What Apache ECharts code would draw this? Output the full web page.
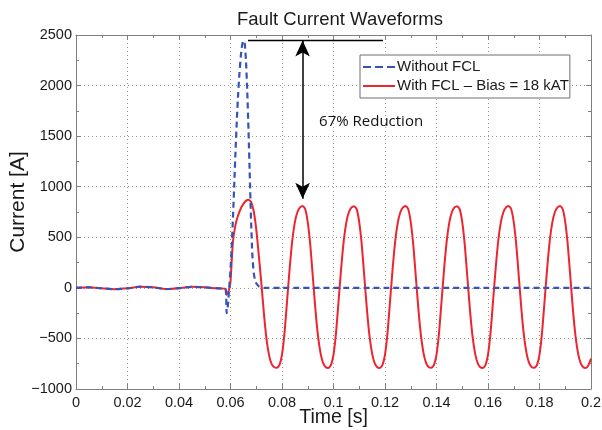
<!DOCTYPE html>
<html><head><meta charset="utf-8">
<script src="https://cdn.jsdelivr.net/npm/echarts@6/dist/echarts.min.js"></script>
<style>html,body{margin:0;padding:0;background:#fff}#c{width:602px;height:430px}</style>
</head><body><div id="c"></div>
<script>
// ---- data ----
var xTicks = [0, 0.02, 0.04, 0.06, 0.08, 0.1, 0.12, 0.14, 0.16, 0.18, 0.2];
var yTicks = [-1000, -500, 0, 500, 1000, 1500, 2000, 2500];

var redTime = [0,0.005,0.01,0.015,0.02,0.025,0.03,0.035,0.04,0.045,0.05,0.055,0.058,0.0585,0.059,0.0595,0.06,0.0605,0.061,0.062,0.063,0.064,0.065,0.066,0.067,
0.068,0.069,0.07,0.071,0.072,0.073,0.074,0.075,0.076,0.077,0.078,0.079,0.08,0.081,0.082,0.083,0.084,0.085,0.086,0.087,0.088,
0.089,0.09,0.091,0.092,0.093,0.094,0.095,0.096,0.097,0.098,0.099,0.1,0.101,0.102,0.103,0.104,0.105,0.106,0.107,0.108,
0.109,0.11,0.111,0.112,0.113,0.114,0.115,0.116,0.117,0.118,0.119,0.12,0.121,0.122,0.123,0.124,0.125,0.126,0.127,0.128,
0.129,0.13,0.131,0.132,0.133,0.134,0.135,0.136,0.137,0.138,0.139,0.14,0.141,0.142,0.143,0.144,0.145,0.146,0.147,0.148,
0.149,0.15,0.151,0.152,0.153,0.154,0.155,0.156,0.157,0.158,0.159,0.16,0.161,0.162,0.163,0.164,0.165,0.166,0.167,0.168,
0.169,0.17,0.171,0.172,0.173,0.174,0.175,0.176,0.177,0.178,0.179,0.18,0.181,0.182,0.183,0.184,0.185,0.186,0.187,0.188,
0.189,0.19,0.191,0.192,0.193,0.194,0.195,0.196,0.197,0.198,0.199,0.2];
var redCurrent = [0,5,-5,-13,-5,12,5,-12,-3,10,5,-5,-8,-70,-45,-15,60,280,470,630,720,785,830,860,870,
850,760,580,320,40,-260,-510,-670,-755,-785,-790,-765,-660,-440,-120,200,470,650,750,795,810,
780,650,420,100,-220,-480,-650,-745,-785,-792,-765,-660,-440,-120,200,470,650,750,795,808,
778,648,420,100,-220,-480,-650,-745,-785,-792,-765,-660,-440,-120,200,470,650,750,795,810,
780,650,420,100,-220,-480,-650,-745,-785,-790,-765,-660,-440,-120,200,470,650,750,795,808,
778,650,420,100,-220,-480,-650,-745,-785,-792,-765,-660,-440,-120,200,470,650,750,795,810,
780,650,420,100,-220,-480,-650,-745,-785,-790,-765,-660,-440,-120,200,470,650,750,795,810,
780,650,420,100,-220,-480,-650,-745,-785,-792,-765,-700];

var blueTime = [0,0.005,0.01,0.015,0.02,0.025,0.03,0.035,0.04,0.045,0.05,0.055,0.058,0.0585,0.059,0.0595,0.06,0.0605,0.061,0.0615,0.062,0.0625,0.063,0.0635,0.064,0.0645,0.065,0.0655,0.066,0.0665,0.067,0.0675,0.068,0.0685,0.069,0.0695,0.07,0.071,0.072,0.073,0.08,0.1,0.12,0.14,0.16,0.18,0.2];
var blueCurrent = [0,5,-5,-13,-5,12,5,-12,-3,10,5,-5,-10,-250,-170,0,180,420,720,1050,1380,1680,1930,2130,2290,2400,2445,2420,2250,1950,1550,1100,650,320,150,80,45,15,5,0,0,0,0,0,0,0,0];

var seriesNames = ['Without FCL', 'With FCL \u2013 Bias = 18 kAT'];
var peakLine = {t: [0.0668, 0.1192], v: 2445};
var arrowSpan = {t: 0.088, from: 2445, to: 880};
var noteText = '67% Reduction';
var notePos = [0.1146, 1640];

function pairs(ts, vs) { return ts.map(function (t, i) { return [t, vs[i]]; }); }

var chart = echarts.init(document.getElementById('c'), null, {renderer: 'canvas'});
var FONT = 'Liberation Sans';
var gridStyle = {show: true, lineStyle: {color: '#9a9a9a', type: [1, 3], width: 1}};
var axisLineStyle = {show: true, onZero: false, lineStyle: {color: '#7f7f7f', width: 1}};

function xAx(pos, labels) {
  return {
    type: 'value', position: pos, min: 0, max: 0.2, interval: 0.02,
    axisLine: axisLineStyle,
    axisTick: {show: true, inside: true, length: 5, lineStyle: {color: '#7f7f7f'}},
    minorTick: {show: true, splitNumber: 2, length: 3, lineStyle: {color: '#7f7f7f'}},
    axisLabel: {show: labels, color: '#1a1a1a', fontSize: 14.5, fontFamily: FONT, margin: 6,
      formatter: function (v) { return String(+v.toFixed(2)); }},
    splitLine: labels ? gridStyle : {show: false},
    name: labels ? 'Time [s]' : '', nameLocation: 'middle', nameGap: 19, nameMoveOverlap: false,
    nameTextStyle: {fontSize: 19.5, color: '#1a1a1a', fontFamily: FONT}
  };
}
function yAx(pos, labels) {
  return {
    type: 'value', position: pos, min: -1000, max: 2500, interval: 500,
    axisLine: axisLineStyle,
    axisTick: {show: true, inside: true, length: 5, lineStyle: {color: '#7f7f7f'}},
    minorTick: {show: true, splitNumber: 2, length: 3, lineStyle: {color: '#7f7f7f'}},
    axisLabel: {show: labels, color: '#1a1a1a', fontSize: 14.5, fontFamily: FONT, margin: 4,
      formatter: function (v) { return v < 0 ? '\u2212' + Math.abs(v) : String(v); }},
    splitLine: labels ? gridStyle : {show: false}
  };
}

chart.setOption({
  animation: false,
  backgroundColor: '#fff',
  title: {text: 'Fault Current Waveforms', left: 335, top: 5, textAlign: 'center',
    textStyle: {fontSize: 18.5, fontWeight: 'normal', color: '#1a1a1a', fontFamily: FONT}},
  graphic: [{type: 'text', x: 18, y: 202, rotation: Math.PI / 2, silent: true,
    style: {text: 'Current [A]', fontSize: 21, fontFamily: FONT, fill: '#1a1a1a',
      align: 'center', verticalAlign: 'middle'}}],
  grid: {left: 76, right: 11, top: 35, bottom: 41, containLabel: false, outerBoundsMode: 'none'},
  xAxis: [xAx('bottom', true), xAx('top', false)],
  yAxis: [yAx('left', true), yAx('right', false)],
  legend: {
    data: [
      {name: seriesNames[0], icon: 'path://M0,0H8V2H0Z M12,0H20V2H12Z M24,0H32V2H24Z'},
      {name: seriesNames[1], icon: 'path://M0,0H32V2H0Z'}
    ],
    orient: 'vertical', left: 360, top: 55,
    backgroundColor: '#fff', borderColor: '#6f6f6f', borderWidth: 1,
    padding: [4, 1, 4, 3], itemGap: 3, itemWidth: 32, itemHeight: 2.4,
    textStyle: {fontSize: 15, color: '#1a1a1a', fontFamily: FONT, padding: [0, 0, 0, -3], lineHeight: 16}
  },
  series: [
    {name: seriesNames[0], type: 'line', data: pairs(blueTime, blueCurrent), z: 3,
      showSymbol: false, symbol: 'none', smooth: 0.2,
      lineStyle: {color: '#3553b8', width: 2.2, type: [6, 4]}, itemStyle: {color: '#3553b8'}},
    {name: seriesNames[1], type: 'line', data: pairs(redTime, redCurrent), z: 2,
      showSymbol: false, symbol: 'none', smooth: 0.2,
      lineStyle: {color: '#ec2530', width: 2}, itemStyle: {color: '#ec2530'}},
    {name: 'annot', type: 'line', silent: true, z: 5, symbol: 'none',
      data: [[peakLine.t[0], peakLine.v], [peakLine.t[1], peakLine.v]],
      lineStyle: {color: '#000', width: 1.5},
      markLine: {silent: true, symbol: ['arrow', 'arrow'], symbolSize: [11, 16],
        label: {show: false}, lineStyle: {color: '#000', width: 1.5, type: 'solid'},
        data: [[{coord: [arrowSpan.t, arrowSpan.from]}, {coord: [arrowSpan.t, arrowSpan.to]}]]},
      markPoint: {silent: true, symbol: 'circle', symbolSize: 0,
        data: [{coord: notePos, label: {show: true, formatter: noteText, position: 'inside',
          fontSize: 15, color: '#111', fontFamily: 'Open Sans'}}]}
    }
  ]
});
</script></body></html>
